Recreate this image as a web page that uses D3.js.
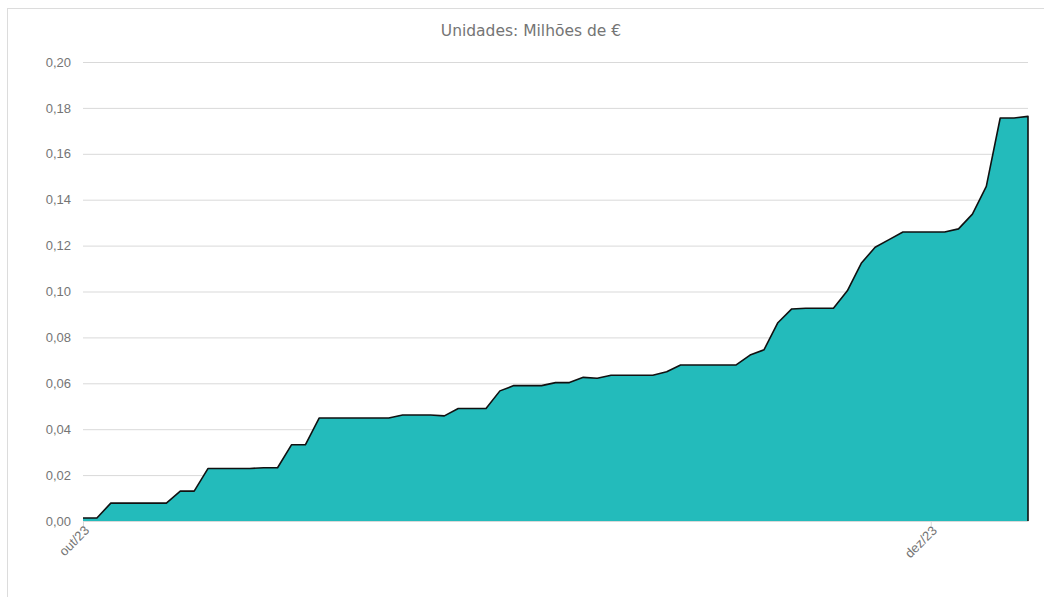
<!DOCTYPE html>
<html>
<head>
<meta charset="utf-8">
<script src="https://cdn.jsdelivr.net/npm/d3@7"></script>
<style>
  body { margin: 0; background: #fff; }
  svg { display: block; font-family: "DejaVu Sans", sans-serif; }
</style>
</head>
<body>
<svg id="chart" width="1044" height="597"></svg>
<script>

// daily values, 1 Oct 2023 .. 8 Dec 2023 (milhoes de euros)
let start_date = "2023-10-01";
let values = [
	0.0013, 0.0013, 0.0078, 0.0078, 0.0078, 0.0078, 0.0078, 0.0130, 0.0130, 0.0229,
	0.0229, 0.0229, 0.0229, 0.0232, 0.0232, 0.0332, 0.0332, 0.0449, 0.0449, 0.0449,
	0.0449, 0.0449, 0.0449, 0.0462, 0.0462, 0.0462, 0.0458, 0.0490, 0.0490, 0.0490,
	0.0567, 0.0590, 0.0590, 0.0590, 0.0603, 0.0603, 0.0626, 0.0622, 0.0635, 0.0635,
	0.0635, 0.0635, 0.0650, 0.0680, 0.0680, 0.0680, 0.0680, 0.0680, 0.0723, 0.0746,
	0.0864, 0.0924, 0.0927, 0.0927, 0.0927, 0.1003, 0.1123, 0.1193, 0.1226, 0.1259,
	0.1259, 0.1259, 0.1259, 0.1273, 0.1337, 0.1458, 0.1756, 0.1756, 0.1763
];
let y_ticks = [0, 0.02, 0.04, 0.06, 0.08, 0.10, 0.12, 0.14, 0.16, 0.18, 0.20];
let x_ticks = ["2023-10-01", "2023-12-01"];
let month_names = ["jan","fev","mar","abr","mai","jun","jul","ago","set","out","nov","dez"];
let title_text = "Unidades: Milhões de €";

let parse = d3.timeParse("%Y-%m-%d");
let day0 = parse(start_date);
let data = values.map(function(v, i){ return { date: d3.timeDay.offset(day0, i), value: v }; });

let chart = d3.select("#chart");

// outer frame
chart.append("rect")
	.attr("x", 7.5).attr("y", 8.5)
	.attr("width", 1100).attr("height", 700)
	.attr("fill", "none")
	.attr("stroke", "#dcdcdc");

// scales
let x = d3.scaleTime()
	.domain(d3.extent(data, function(d){ return d.date; }))
	.range([83, 1028]);

let y = d3.scaleLinear()
	.domain([0, 0.20])
	.range([521, 62]);

// title
chart.append("text")
	.attr("x", 531).attr("y", 36)
	.attr("text-anchor", "middle")
	.attr("font-size", "15.5px")
	.attr("fill", "#757575")
	.text(title_text);

// grid + y labels
let yAxis = chart.append("g")
	.attr("transform", "translate(83,0)")
	.call(d3.axisLeft(y).tickValues(y_ticks).tickSize(-945).tickPadding(12)
		.tickFormat(function(d){ return d3.format(".2f")(d).replace(".", ","); }));
yAxis.select(".domain").remove();
yAxis.selectAll(".tick line").attr("stroke", "#d9d9d9");
yAxis.selectAll(".tick text").attr("fill", "#757575").attr("font-size", "13px");

// area
chart.append("path")
	.datum(data)
	.attr("fill", "#23bbbb")
	.attr("d", d3.area()
		.x(function(d){ return x(d.date); })
		.y0(y(0))
		.y1(function(d){ return y(d.value); }));

// baseline / x axis
let xAxis = chart.append("g")
	.attr("transform", "translate(0," + y(0) + ")")
	.call(d3.axisBottom(x).tickValues(x_ticks.map(parse)).tickSize(5).tickSizeOuter(0)
		.tickFormat(function(d){ return month_names[d.getMonth()] + "/" + d3.timeFormat("%y")(d); }));
xAxis.select(".domain").attr("stroke", "#d9d9d9");
xAxis.selectAll(".tick line").attr("stroke", "#d9d9d9");
xAxis.selectAll(".tick text")
	.attr("fill", "#757575")
	.attr("font-size", "13px")
	.attr("text-anchor", "end")
	.attr("dx", "-0.2em")
	.attr("dy", "0.3em")
	.attr("transform", "rotate(-45)");

// outline (top line plus closing edge on the right)
let last = data[data.length - 1];
chart.append("path")
	.datum(data.concat([{ date: last.date, value: 0 }]))
	.attr("fill", "none")
	.attr("stroke", "#111")
	.attr("stroke-width", 1.6)
	.attr("stroke-linejoin", "round")
	.attr("d", d3.line()
		.x(function(d){ return x(d.date); })
		.y(function(d){ return y(d.value); }));

</script>
</body>
</html>
